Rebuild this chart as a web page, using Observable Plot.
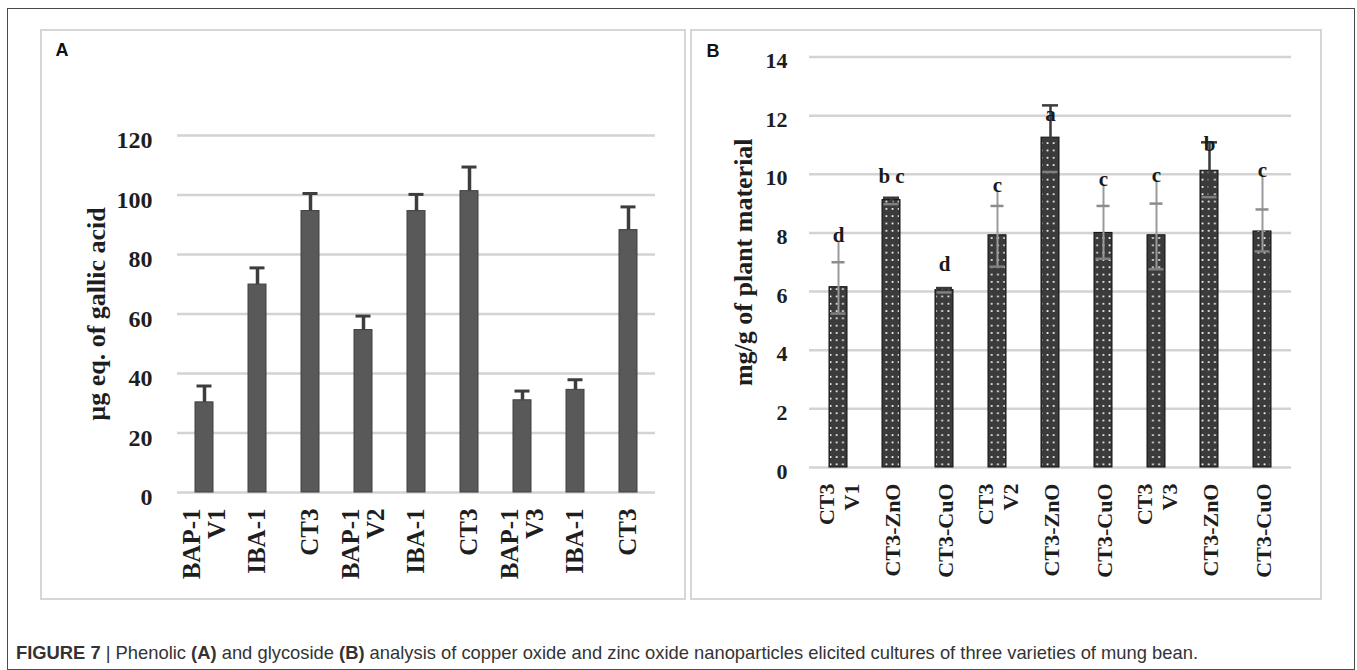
<!DOCTYPE html>
<html>
<head>
<meta charset="utf-8">
<script src="https://cdn.jsdelivr.net/npm/d3@7"></script>
<script src="https://cdn.jsdelivr.net/npm/@observablehq/plot@0.6"></script>
<style>
  html, body { margin: 0; padding: 0; background: #fff; }
  body { width: 1357px; height: 670px; position: relative; overflow: hidden; }
  .chart { position: absolute; }
  .chart svg { display: block; background: transparent !important; }
  .box { position: absolute; box-sizing: border-box; pointer-events: none; }
  #outer { left: 6.5px; top: 7.5px; width: 1348.5px; height: 662px; border: 1.5px solid #4a4a4a; }
  #panelA { left: 40px; top: 29px; width: 646px; height: 570.5px; border: 2.5px solid #d6d6d6; }
  #panelB { left: 689.5px; top: 29px; width: 632px; height: 570.5px; border: 2.5px solid #d6d6d6; }
  #caption { position: absolute; left: 16px; top: 643px; font-family: "Liberation Sans", Arial, sans-serif;
             font-size: 18.5px; line-height: 20px; color: #333; white-space: nowrap; transform-origin: 0 50%; }
  #caption b { font-weight: bold; }
</style>
</head>
<body>
<div id="chartA" class="chart" style="left:41px; top:30px;"></div>
<div id="chartB" class="chart" style="left:691px; top:30px;"></div>
<div id="outer" class="box"></div>
<div id="panelA" class="box"></div>
<div id="panelB" class="box"></div>
<div id="caption"><b>FIGURE 7</b> | Phenolic <b>(A)</b> and glycoside <b>(B)</b> analysis of copper oxide and zinc oxide nanoparticles elicited cultures of three varieties of mung bean.</div>
<script>
// ---------- Data: panel A (phenolic content) ----------
const groupsA = ["V1", "V1", "V1", "V2", "V2", "V2", "V3", "V3", "V3"];
const treatA  = ["BAP-1", "IBA-1", "CT3", "BAP-1", "IBA-1", "CT3", "BAP-1", "IBA-1", "CT3"];
const meanA   = [30.3, 69.9, 94.6, 54.6, 94.6, 101.3, 31.0, 34.5, 88.2];
const upperA  = [35.8, 75.5, 100.5, 59.3, 100.2, 109.4, 34.1, 37.9, 96.0];
const yTicksA = [0, 20, 40, 60, 80, 100, 120];
const yTitleA = "µg eq. of gallic acid";
const panelLabelA = "A";

// ---------- Data: panel B (glycoside content) ----------
const groupsB = ["V1", "V1", "V1", "V2", "V2", "V2", "V3", "V3", "V3"];
const treatB  = ["CT3", "CT3-ZnO", "CT3-CuO", "CT3", "CT3-ZnO", "CT3-CuO", "CT3", "CT3-ZnO", "CT3-CuO"];
const meanB   = [6.15, 9.12, 6.05, 7.92, 11.25, 8.0, 7.92, 10.12, 8.05];
const lowB    = [5.25, 8.98, 5.97, 6.85, 10.08, 7.12, 6.76, 9.22, 7.37];
const highB   = [7.0, 9.2, 6.12, 8.92, 12.35, 8.92, 9.0, 11.09, 8.8];
const letterB = ["d", "b c", "d", "c", "a", "c", "c", "b", "c"];
const letterPosB = [7.68, 9.70, 6.69, 9.41, 11.83, 9.61, 9.75, 10.78, 9.90];
const yTicksB = [0, 2, 4, 6, 8, 10, 12, 14];
const yTitleB = "mg/g of plant material";
const panelLabelB = "B";

// ---------- Build tables ----------
function labelFor(groups, treats, i) {
  return (i === 0 || groups[i] !== groups[i - 1]) ? treats[i] + "\n" + groups[i] : treats[i];
}
const dataA = treatA.map((t, i) => ({
  key: groupsA[i] + "|" + t, label: labelFor(groupsA, treatA, i), mean: meanA[i], upper: upperA[i]
}));
const dataB = treatB.map((t, i) => ({
  i, key: groupsB[i] + "|" + t, label: labelFor(groupsB, treatB, i), mean: meanB[i],
  low: lowB[i], high: highB[i], letter: letterB[i], letterPos: letterPosB[i]
}));

const serif = "'Liberation Serif', 'Times New Roman', Times, serif";
const sans = "'Liberation Sans', Arial, Helvetica, sans-serif";
const baseStyle = { fontFamily: serif, fontWeight: "bold", color: "#1e1e1e", background: "transparent", overflow: "visible" };

// ---------- Panel A ----------
const plotA = Plot.plot({
  width: 644, height: 568,
  marginLeft: 136, marginRight: 30, marginTop: 105, marginBottom: 106,
  style: baseStyle,
  x: { domain: dataA.map(d => d.key), paddingInner: 0.66, paddingOuter: 0.33, axis: null },
  y: { domain: [0, 120], axis: null },
  marks: [
    Plot.gridY(yTicksA, { stroke: "#d3d3d3", strokeOpacity: 1, strokeWidth: 2.5 }),
    Plot.axisY(yTicksA, { tickSize: 0, tickPadding: 25, fontSize: 24, dy: 5, label: null, fill: "#1e1e1e" }),
    Plot.barY(dataA, { x: "key", y: "mean", fill: "#595959", stroke: "#404040", strokeWidth: 1 }),
    Plot.ruleX(dataA, { x: "key", y1: "mean", y2: "upper", stroke: "#3d3d3d", strokeWidth: 3.5 }),
    Plot.tickY(dataA, { x: "key", y: "upper", stroke: "#3d3d3d", strokeWidth: 3, insetLeft: 1.5, insetRight: 1.5 }),
    Plot.text(dataA, { x: "key", text: "label", frameAnchor: "bottom", rotate: -90, textAnchor: "end",
      lineAnchor: "middle", dy: 16, fontSize: 25, lineHeight: 0.98, fill: "#1e1e1e" }),
    Plot.text([yTitleA], { text: d => d, frameAnchor: "left", rotate: -90, dx: -81, fontSize: 26,
      textAnchor: "middle", lineAnchor: "middle", fill: "#1e1e1e" }),
    Plot.text([panelLabelA], { text: d => d, frameAnchor: "top-left", dx: -122, dy: -80, textAnchor: "start",
      lineAnchor: "bottom", fontFamily: sans, fontWeight: "bold", fontSize: 18, fill: "#111" })
  ]
});
document.getElementById("chartA").appendChild(plotA);

// ---------- Panel B ----------
const darkErr = new Set([1, 2, 4, 7]);
const grayRows = dataB.filter(d => !darkErr.has(d.i));
const darkRows = dataB.filter(d => darkErr.has(d.i));
const plotB = Plot.plot({
  width: 629, height: 568,
  marginLeft: 118, marginRight: 29, marginTop: 26.5, marginBottom: 131,
  style: baseStyle,
  x: { domain: dataB.map(d => d.key), paddingInner: 0.66, paddingOuter: 0.33, axis: null },
  y: { domain: [0, 14], axis: null },
  marks: [
    Plot.gridY(yTicksB, { stroke: "#d3d3d3", strokeOpacity: 1, strokeWidth: 2.5 }),
    Plot.axisY(yTicksB, { tickSize: 0, tickPadding: 22, fontSize: 22, dy: 4, label: null, fill: "#1e1e1e" }),
    Plot.barY(dataB, { x: "key", y: "mean", fill: "#3b3b3b", stroke: "#111", strokeWidth: 1 }),
    Plot.barY(dataB, { x: "key", y: "mean", fill: "white", insetLeft: 1, insetRight: 1 }),
    Plot.ruleX(grayRows, { x: "key", y1: "low", y2: d => Math.max(d.high, d.letterPos), stroke: "#9a9a9a", strokeWidth: 2 }),
    Plot.ruleX(darkRows, { x: "key", y1: "low", y2: "high", stroke: "#3a3a3a", strokeWidth: 2.5 }),
    Plot.tickY(grayRows, { x: "key", y: "high", stroke: "#8c8c8c", strokeWidth: 2.5, insetLeft: 2.5, insetRight: 2.5 }),
    Plot.tickY(darkRows, { x: "key", y: "high", stroke: "#3a3a3a", strokeWidth: 2.5, insetLeft: 1, insetRight: 1 }),
    Plot.tickY(dataB, { x: "key", y: "low", stroke: "#808080", strokeWidth: 2.5, insetLeft: 1.5, insetRight: 1.5 }),
    Plot.text(dataB, { x: "key", y: "letterPos", text: "letter", lineAnchor: "bottom", fontSize: 21, fill: "#1a1a1a" }),
    Plot.text(dataB, { x: "key", text: "label", frameAnchor: "bottom", rotate: -90, textAnchor: "end",
      lineAnchor: "middle", dy: 16, fontSize: 22, lineHeight: 1.15, fill: "#1e1e1e" }),
    Plot.text([yTitleB], { text: d => d, frameAnchor: "left", rotate: -90, dx: -66, fontSize: 26,
      textAnchor: "middle", lineAnchor: "middle", fill: "#1e1e1e" }),
    Plot.text([panelLabelB], { text: d => d, frameAnchor: "top-left", dx: -103, dy: -0.5, textAnchor: "start",
      lineAnchor: "bottom", fontFamily: sans, fontWeight: "bold", fontSize: 18, fill: "#111" })
  ]
});
document.getElementById("chartB").appendChild(plotB);

// dotted pattern for panel B bars (applied to the second bar layer)
const svgB = d3.select(plotB);
const defs = svgB.insert("defs", ":first-child");
const pat = defs.append("pattern").attr("id", "dotpat").attr("patternUnits", "userSpaceOnUse")
  .attr("width", 6.2).attr("height", 7.3);
pat.append("rect").attr("x", 2.3).attr("y", 2.8).attr("width", 1.7).attr("height", 1.7).attr("fill", "#ffffff");
const barLayers = svgB.selectAll("g[aria-label='bar']").nodes();
if (barLayers.length > 1) {
  const overlay = d3.select(barLayers[1]);
  overlay.attr("fill", "url(#dotpat)");
  overlay.selectAll("rect").attr("fill", "url(#dotpat)");
}

// fit caption to the reference's width
const cap = document.getElementById("caption");
const w = cap.getBoundingClientRect().width;
cap.style.transform = `scaleX(${1182 / w})`;
</script>
</body>
</html>
